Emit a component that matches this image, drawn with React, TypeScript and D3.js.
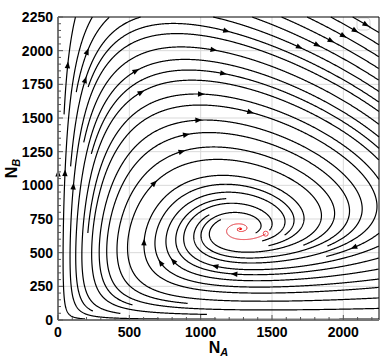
import React, { useMemo } from 'react'
import * as d3 from 'd3'

// axis ticks and grid
const xTicks = [0, 500, 1000, 1500, 2000]
const yTicks = [0, 250, 500, 750, 1000, 1250, 1500, 1750, 2000, 2250]
const xGrid = [500, 1000, 1500, 2000]
const yGrid = [250, 500, 750, 1000, 1250, 1500, 1750, 2000]
const xMinor = d3.range(0, 2251, 100)
const yMinor = d3.range(0, 2251, 50)
const domainMax = 2250

// predator (A) / prey (B) model, rates read so the fixed point sits near (1278, 675)
// dNA/dt = NA (c NB - d - e NA) ; dNB/dt = NB (r (1 - NB/K) - a NA)
const preyRates = [1.485, 4842, 0.001] // r, K, a
const predatorRates = [0.0016, 0.72, 0.000282] // c, d, e
const redStart = [1456, 641]
// first stream seeds, taken at arrow positions in the picture
const seedNA = [570, 1600, 100]
const seedNB = [2080, 660, 1000]

const W = 382
const H = 360
const margin = { left: 58, right: 3, top: 17, bottom: 40 }

type Pt = [number, number]
type Sample = { x: number; y: number; id: number; s: number }

function field(na: number, nb: number): Pt {
  const [r, K, a] = preyRates
  const [c, d, e] = predatorRates
  return [na * (c * nb - d - e * na), nb * (r * (1 - nb / K) - a * na)]
}

function redPath(): Pt[] {
  const pts: Pt[] = []
  let [a, b] = redStart
  const dt = 0.004
  const f = (p: Pt) => field(p[0], p[1])
  for (let t = 0; t < 30; t += dt) {
    pts.push([a, b])
    const k1 = f([a, b])
    const k2 = f([a + (k1[0] * dt) / 2, b + (k1[1] * dt) / 2])
    const k3 = f([a + (k2[0] * dt) / 2, b + (k2[1] * dt) / 2])
    const k4 = f([a + k3[0] * dt, b + k3[1] * dt])
    a += ((k1[0] + 2 * k2[0] + 2 * k3[0] + k4[0]) * dt) / 6
    b += ((k1[1] + 2 * k2[1] + 2 * k3[1] + k4[1]) * dt) / 6
  }
  return pts
}

// evenly spaced streamlines (Jobard & Lefer) in pixel space
function buildStreams(x: d3.ScaleLinear<number, number>, y: d3.ScaleLinear<number, number>, red: Pt[]) {
  const [X0, X1] = x.range()
  const [Y1, Y0] = y.range()
  const kx = (X1 - X0) / domainMax
  const ky = (Y1 - Y0) / domainMax
  const dsep = 10.5
  const dtest = 4.8
  const h = 0.5
  const selfGap = 2.5 * dsep
  const gw = Math.ceil((X1 - X0) / dsep) + 1
  const gh = Math.ceil((Y1 - Y0) / dsep) + 1
  const grid: Sample[][] = Array.from({ length: gw * gh }, () => [])
  const gi = (px: number, py: number) => [Math.floor((px - X0) / dsep), Math.floor((py - Y0) / dsep)]
  const add = (p: Sample) => {
    const [i, j] = gi(p.x, p.y)
    grid[j * gw + i].push(p)
  }
  const near = (px: number, py: number, d: number, id: number, s: number) => {
    const [i, j] = gi(px, py)
    for (let dj = -1; dj <= 1; dj++) {
      for (let di = -1; di <= 1; di++) {
        const a = i + di, b = j + dj
        if (a < 0 || b < 0 || a >= gw || b >= gh) continue
        for (const q of grid[b * gw + a]) {
          if (q.id === id && Math.abs(q.s - s) < selfGap) continue
          const dx = q.x - px, dy = q.y - py
          if (dx * dx + dy * dy < d * d) return true
        }
      }
    }
    return false
  }
  // the red trajectory blocks the black streams
  let last: Pt = [-99, -99]
  red.forEach(([a, b]) => {
    const px = x(a), py = y(b)
    if (Math.hypot(px - last[0], py - last[1]) > 0.6) {
      add({ x: px, y: py, id: -2, s: 0 })
      last = [px, py]
    }
  })
  const dir = (px: number, py: number): Pt | null => {
    const [u, v] = field(x.invert(px), y.invert(py))
    const du = u * kx
    const dv = -v * ky
    const m = Math.hypot(du, dv)
    if (m < 1e-9) return null
    return [du / m, dv / m]
  }
  const inside = (px: number, py: number) => px >= X0 && px <= X1 && py >= Y0 && py <= Y1
  const trace = (p0: Pt, sg: number, id: number) => {
    const pts: Pt[] = []
    let [px, py] = p0
    let s = 0
    for (let k = 0; k < 5000; k++) {
      const k1 = dir(px, py)
      if (!k1) break
      const k2 = dir(px + (sg * k1[0] * h) / 2, py + (sg * k1[1] * h) / 2)
      if (!k2) break
      const nx = px + sg * k2[0] * h
      const ny = py + sg * k2[1] * h
      if (!inside(nx, ny)) break
      s += sg * h
      if (near(nx, ny, dtest, id, s)) break
      add({ x: nx, y: ny, id, s })
      px = nx
      py = ny
      pts.push([px, py])
    }
    return pts
  }

  const lines: Pt[][] = []
  let nextId = 0
  const tryLine = (p0: Pt) => {
    if (!inside(p0[0], p0[1]) || !dir(p0[0], p0[1])) return false
    if (near(p0[0], p0[1], dsep, -1, 0)) return false
    const id = nextId++
    add({ x: p0[0], y: p0[1], id, s: 0 })
    const back = trace(p0, -1, id)
    const fwd = trace(p0, 1, id)
    const pts = [...back.reverse(), p0, ...fwd]
    if (pts.length * h < 16) {
      grid.forEach((c, k) => (grid[k] = c.filter(q => q.id !== id)))
      return false
    }
    lines.push(pts)
    return true
  }
  const grow = () => {
    for (let q = 0; q < lines.length; q++) {
      const pts = lines[q]
      for (let k = 0; k < pts.length; k += 8) {
        const a = pts[Math.max(0, k - 1)]
        const b = pts[Math.min(pts.length - 1, k + 1)]
        const tx = b[0] - a[0], ty = b[1] - a[1]
        const m = Math.hypot(tx, ty) || 1
        for (const sgn of [1, -1]) {
          tryLine([pts[k][0] - (sgn * ty * dsep) / m, pts[k][1] + (sgn * tx * dsep) / m])
        }
      }
    }
  }
  seedNA.forEach((v, k) => {
    tryLine([x(v), y(seedNB[k])])
    grow()
  })
  for (let py = Y0 + 3; py < Y1; py += dsep / 2) {
    for (let px = X0 + 3; px < X1; px += dsep / 2) {
      if (tryLine([px, py])) grow()
    }
  }
  return lines
}

const App = () => {
  const x = d3.scaleLinear().domain([0, domainMax]).range([margin.left, W - margin.right])
  const y = d3.scaleLinear().domain([0, domainMax]).range([H - margin.bottom, margin.top])
  const red = useMemo(() => redPath(), [])
  const lines = useMemo(() => buildStreams(x, y, red), [])
  const line = d3.line<Pt>()
  const redLine = d3.line<Pt>().x(d => x(d[0])).y(d => y(d[1]))
  const [X0, X1] = x.range()
  const [Y1, Y0] = y.range()
  const font = "'Liberation Sans', Arial, sans-serif"

  const arrows = lines
    .filter(pts => pts.length > 50)
    .map(pts => {
      let total = 0
      const acc = [0]
      for (let k = 1; k < pts.length; k++) {
        total += Math.hypot(pts[k][0] - pts[k - 1][0], pts[k][1] - pts[k - 1][1])
        acc.push(total)
      }
      const k = Math.max(1, d3.bisectLeft(acc, total / 2))
      const p = pts[Math.min(k, pts.length - 1)]
      const q = pts[k - 1]
      const ang = (Math.atan2(p[1] - q[1], p[0] - q[0]) * 180) / Math.PI
      return { p, ang }
    })

  return (
    <svg width={W} height={H} style={{ position: 'absolute', left: 0, top: 0, background: '#fff' }}>
      <g stroke="#d9d9d9" strokeWidth={1}>
        {xGrid.map(v => <line key={'gx' + v} x1={x(v)} x2={x(v)} y1={Y0} y2={Y1} />)}
        {yGrid.map(v => <line key={'gy' + v} x1={X0} x2={X1} y1={y(v)} y2={y(v)} />)}
      </g>
      <rect x={357} y={18} width={13} height={12} rx={3} fill="none" stroke="#d6d6d6" />
      <g fill="none" stroke="#000" strokeWidth={1.2}>
        {lines.map((pts, k) => <path key={k} d={line(pts) || ''} />)}
      </g>
      <g fill="#000">
        {arrows.map((a, k) => (
          <path key={k} d="M3.5,0L-3.2,-2.7L-3.2,2.7Z" transform={`translate(${a.p[0]},${a.p[1]}) rotate(${a.ang})`} />
        ))}
      </g>
      <path d={redLine(red) || ''} fill="none" stroke="#e8202a" strokeWidth={1} />
      <circle cx={x(redStart[0])} cy={y(redStart[1])} r={2.5} fill="none" stroke="#e8202a" strokeWidth={0.8} />
      <line x1={X0} x2={X1} y1={Y0} y2={Y0} stroke="#000" strokeWidth={1} />
      <line x1={X1} x2={X1} y1={Y0} y2={Y1} stroke="#000" strokeWidth={1} />
      <line x1={X0} x2={X0} y1={Y0} y2={Y1} stroke="#777" strokeWidth={2} />
      <line x1={X0} x2={X1} y1={Y1} y2={Y1} stroke="#777" strokeWidth={2} />
      <g stroke="#555" strokeWidth={1}>
        {xMinor.map(v => {
          const major = v % 500 === 0
          return <line key={'tx' + v} x1={x(v)} x2={x(v)} y1={Y1} y2={Y1 - (major ? 5 : 3)} />
        })}
        {yMinor.map(v => {
          const major = v % 250 === 0
          return <line key={'ty' + v} x1={X0} x2={X0 + (major ? 5 : 3)} y1={y(v)} y2={y(v)} />
        })}
      </g>
      <g fontFamily={font} fontWeight="bold" fontSize={14} fill="#000">
        {xTicks.map(v => (
          <text key={'lx' + v} x={x(v)} y={Y1 + 17} textAnchor="middle">{v}</text>
        ))}
        {yTicks.map(v => (
          <text key={'ly' + v} x={X0 - 5} y={y(v) + 5} textAnchor="end">{v}</text>
        ))}
      </g>
      <text x={(X0 + X1) / 2} y={353} textAnchor="middle" fontFamily={font} fontWeight="bold" fontSize={16}>
        N<tspan fontSize={11} fontStyle="italic" dy={3}>A</tspan>
      </text>
      <text transform={`translate(17,${(Y0 + Y1) / 2}) rotate(-90)`} textAnchor="middle" fontFamily={font} fontWeight="bold" fontSize={16}>
        N<tspan fontSize={11} fontStyle="italic" dy={3}>B</tspan>
      </text>
    </svg>
  )
}

export default App
